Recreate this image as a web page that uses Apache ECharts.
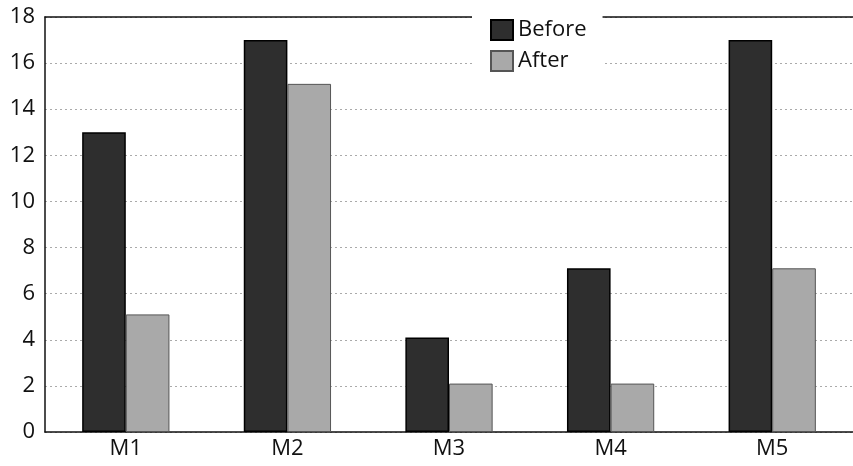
<!DOCTYPE html>
<html><head><meta charset="utf-8">
<script src="https://cdn.jsdelivr.net/npm/echarts@6/dist/echarts.min.js"></script>
<style>html,body{margin:0;padding:0;background:#fff}#c{width:853px;height:466px}</style>
</head><body><div id="c"></div>
<script>
const categories = ['M1', 'M2', 'M3', 'M4', 'M5'];
const beforeValues = [13, 17, 4.1, 7.1, 17];
const afterValues = [5.1, 15.1, 2.1, 2.1, 7.1];
const yTicks = {min: 0, max: 18, interval: 2};

const chart = echarts.init(document.getElementById('c'));
const font = '"Open Sans", "DejaVu Sans", sans-serif';
chart.setOption({
  animation: false,
  textStyle: {fontFamily: font},
  grid: {left: 45, right: 0, top: 17, bottom: 34},
  legend: {
    orient: 'vertical', left: 472, top: 16, itemWidth: 22, itemHeight: 20, itemGap: 9,
    icon: 'rect',
    backgroundColor: '#fff', padding: [3, 16, 3, 18],
    textStyle: {fontSize: 22, color: '#111', fontFamily: font},
    data: ['Before', 'After'], z: 10
  },
  xAxis: [{
    type: 'category', data: categories,
    axisLine: {lineStyle: {color: '#111', width: 1.5}},
    axisTick: {show: false},
    axisLabel: {fontSize: 22, color: '#111', margin: 6}
  }, {
    type: 'category', data: categories, position: 'top',
    axisLine: {lineStyle: {color: '#111', width: 1.5}},
    axisTick: {show: false}, axisLabel: {show: false}
  }],
  yAxis: {
    type: 'value', min: yTicks.min, max: yTicks.max, interval: yTicks.interval,
    axisLine: {show: true, lineStyle: {color: '#111', width: 1.5}},
    axisTick: {show: false},
    axisLabel: {fontSize: 22, color: '#111', margin: 10},
    splitLine: {lineStyle: {color: '#aaa', type: [2, 3], width: 1}}
  },
  series: [{
    name: 'Before', type: 'bar', data: beforeValues, barGap: '0%', barCategoryGap: '46%',
    itemStyle: {color: '#2e2e2e', borderColor: '#000', borderWidth: 1.5}
  }, {
    name: 'After', type: 'bar', data: afterValues,
    itemStyle: {color: '#a9a9a9', borderColor: '#555', borderWidth: 1}
  }]
});
</script></body></html>
